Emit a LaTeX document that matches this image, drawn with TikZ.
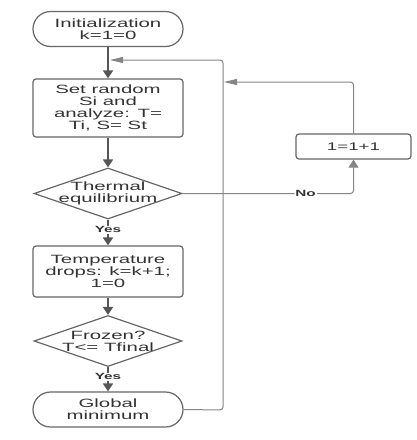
\documentclass[tikz,border=0pt]{standalone}
\usepackage{fontspec}
\setmainfont{Liberation Sans}[FakeStretch=1.7]
\usetikzlibrary{shapes.geometric,shapes.misc,arrows.meta}
\definecolor{boxgray}{HTML}{666666}
\definecolor{linegray}{HTML}{555555}
\definecolor{loopgray}{HTML}{858585}
\definecolor{textgray}{HTML}{333333}
\tikzset{
  base/.style={draw=boxgray, line width=1.2pt, text=textgray, align=center,
    font=\fontsize{12}{12}\selectfont, inner sep=0pt},
  procbox/.style={base, rectangle, rounded corners=3pt, minimum width=150pt},
  termbox/.style={base, rounded rectangle, minimum width=150pt, minimum height=35pt},
  diabox/.style={base, diamond, minimum width=148pt, minimum height=51pt},
  txt/.style={text=textgray, align=center, font=\fontsize{12}{12}\selectfont, inner sep=0pt},
  lbl/.style={fill=white, text=textgray, font=\fontsize{9}{9}\selectfont\bfseries, inner sep=1pt},
  mainarrow/.style={draw=linegray, line width=1.6pt, -{Triangle[length=8pt,width=10pt]}},
  looparrow/.style={draw=loopgray, line width=1pt, rounded corners=3pt, -{Triangle[length=13pt,width=6pt]}},
  noarrow/.style={draw=loopgray, line width=1pt, rounded corners=3pt, -{Triangle[length=8pt,width=10pt]}},
}
\begin{document}
\begin{tikzpicture}[x=1pt,y=-1pt]
\useasboundingbox (0,0) rectangle (417,440);
\node[termbox] (init) at (108,29) {Initialization\\k=1=0};
\node[procbox, minimum height=58pt] (set) at (108,108) {Set random\\Si and\\analyze: T=\\Ti, S= St};
\node[diabox] (d1) at (108,193.5) {};
\node[txt] (d1t) at (108,193.5) {Thermal\\equilibrium};
\node[procbox, minimum height=51pt] (temp) at (108,271.5) {Temperature\\drops: k=k+1;\\1=0};
\node[diabox] (d2) at (108,341) {};
\node[txt] (d2t) at (108,341) {Frozen?\\T<= Tfinal};
\node[termbox] (glob) at (108,409.5) {Global\\minimum};
\node[procbox, minimum width=115pt, minimum height=25pt, font=\fontsize{11}{11}\selectfont] (inc) at (353.5,146.5) {1=1+1};

\coordinate (j1) at (110,60);
\coordinate (j2) at (224,82);
\coordinate (c1) at (223,410);
\coordinate (c2) at (223,60);

\draw[mainarrow] (init.south) -- (set.north);
\draw[mainarrow] (set.south) -- (d1.north);
\draw[mainarrow] (d1.south) -- (temp.north) node[lbl, pos=0.4] (yes1) {Yes};
\draw[mainarrow] (temp.south) -- (d2.north);
\draw[mainarrow] (d2.south) -- (glob.north) node[lbl, pos=0.4] (yes2) {Yes};

\draw[looparrow] (glob.east) -- (c1) -- (c2) -- (j1);
\draw[noarrow] (d1.east) -| (inc.south) node[lbl, pos=0.36] (no) {No};
\draw[looparrow] (inc.north) |- (j2);
\end{tikzpicture}
\end{document}
